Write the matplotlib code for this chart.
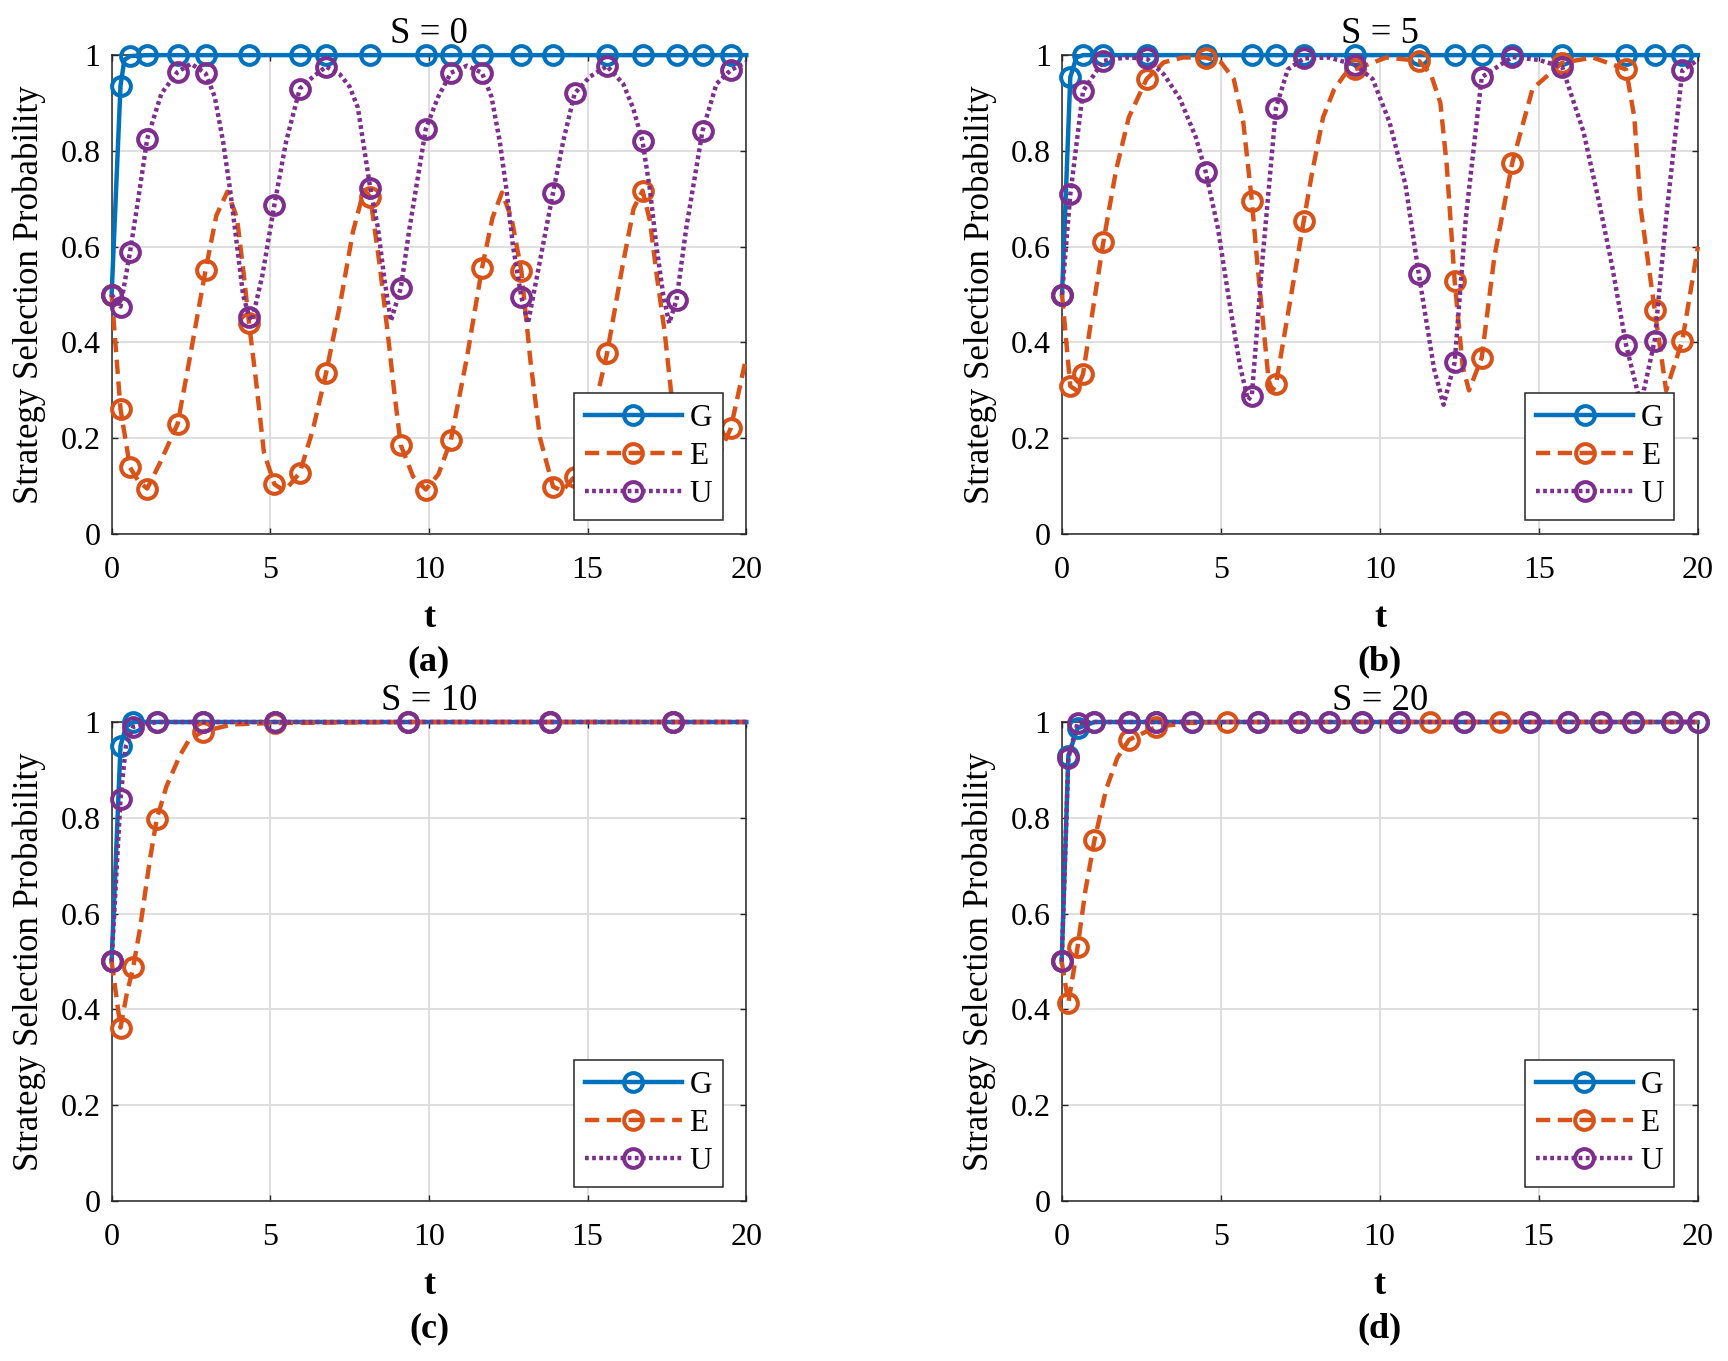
import numpy as np
import matplotlib.pyplot as plt
from matplotlib.ticker import FuncFormatter

plt.rcParams['font.family'] = ['Liberation Serif', 'DejaVu Serif']

# Barvy (MATLAB default)
col_G = '#0072BD'
col_E = '#D95319'
col_U = '#7E2F8E'

# ---------------- (a) S = 0 ----------------
ta = [0, 0.28, 0.58, 1.12, 2.08, 2.96, 4.33, 5.13, 5.93, 6.76, 8.15, 9.11, 9.90,
      10.69, 11.67, 12.91, 13.91, 14.59, 15.61, 16.73, 17.80, 18.62, 19.51]
Ga_t = [0, 0.28, 0.58, 1.12, 2.08, 2.96, 4.33, 5.93, 6.76, 8.15, 9.90, 10.69,
        11.67, 12.91, 13.91, 15.61, 16.73, 17.80, 18.62, 19.51]
Ga_y = [0.5, 0.936, 0.998, 1, 1, 1, 1, 1, 1, 1, 1, 1, 1, 1, 1, 1, 1, 1, 1, 1]
Ga_xt = [0.40, 20.0]
Ga_xy = [0.990, 1.0]
Ea_y = [0.5, 0.261, 0.139, 0.095, 0.230, 0.551, 0.440, 0.104, 0.128, 0.337, 0.704,
        0.186, 0.093, 0.196, 0.555, 0.550, 0.099, 0.120, 0.377, 0.717, 0.190, 0.090, 0.221]
Ea_xt = [0.85, 1.52, 2.47, 3.30, 3.65, 3.95, 4.15, 4.55, 4.80, 5.45, 6.35, 7.20, 7.60,
         7.95, 8.45, 8.70, 8.90, 9.50, 10.30, 11.20, 12.00, 12.30, 12.60, 13.20, 13.50,
         14.20, 15.10, 16.10, 16.45, 16.96, 17.17, 17.43, 18.20, 20.0]
Ea_xy = [0.110, 0.148, 0.370, 0.665, 0.715, 0.660, 0.550, 0.320, 0.170, 0.090, 0.220,
         0.480, 0.630, 0.718, 0.560, 0.420, 0.300, 0.120, 0.125, 0.370, 0.660, 0.713,
         0.660, 0.360, 0.200, 0.090, 0.230, 0.560, 0.680, 0.655, 0.544, 0.420, 0.120, 0.370]
Ua_y = [0.5, 0.475, 0.589, 0.825, 0.965, 0.962, 0.454, 0.688, 0.930, 0.976, 0.722,
        0.513, 0.846, 0.963, 0.963, 0.495, 0.713, 0.920, 0.977, 0.820, 0.489, 0.842, 0.969]
Ua_xt = [0.84, 1.57, 2.50, 3.25, 3.51, 3.72, 3.93, 4.14, 4.42, 4.75, 5.50, 6.35, 7.19,
         7.50, 7.76, 7.97, 8.39, 8.60, 8.80, 9.39, 10.29, 11.20, 11.97, 12.23, 12.44,
         12.65, 13.12, 14.23, 15.07, 16.12, 16.43, 16.96, 17.17, 17.38, 17.57, 18.11,
         19.06, 20.0]
Ua_xy = [0.700, 0.920, 0.982, 0.913, 0.820, 0.725, 0.614, 0.500, 0.445, 0.540, 0.820,
         0.955, 0.960, 0.934, 0.890, 0.800, 0.640, 0.530, 0.445, 0.640, 0.913, 0.978,
         0.913, 0.820, 0.720, 0.600, 0.440, 0.820, 0.955, 0.940, 0.890, 0.720, 0.600,
         0.500, 0.440, 0.640, 0.940, 0.985]

# ---------------- (b) S = 5 ----------------
tb = [0, 0.26, 0.66, 1.30, 2.66, 4.52, 5.97, 6.73, 7.60, 9.20, 11.22, 12.35, 13.20,
      14.16, 15.73, 17.74, 18.64, 19.51]
Gb_y = [0.5, 0.954, 1, 1, 1, 1, 1, 1, 1, 1, 1, 1, 1, 1, 1, 1, 1, 1]
Gb_xt = [0.45, 20.0]
Gb_xy = [0.995, 1.0]
Eb_y = [0.5, 0.309, 0.334, 0.610, 0.950, 0.995, 0.696, 0.313, 0.653, 0.970, 0.988,
        0.528, 0.368, 0.775, 0.984, 0.970, 0.468, 0.404]
Eb_xt = [0.45, 0.95, 1.70, 2.10, 3.20, 3.80, 5.00, 5.40, 5.70, 6.15, 6.50, 6.62, 7.86,
         8.21, 8.56, 8.90, 10.20, 11.60, 11.90, 12.10, 12.60, 12.80, 13.60, 14.80,
         16.70, 18.00, 18.20, 19.00, 20.0]
Eb_xy = [0.300, 0.460, 0.760, 0.870, 0.985, 0.995, 0.985, 0.950, 0.860, 0.560, 0.320,
         0.300, 0.753, 0.870, 0.929, 0.960, 0.995, 0.960, 0.900, 0.770, 0.350, 0.300,
         0.580, 0.930, 0.995, 0.870, 0.680, 0.300, 0.600]
Ub_y = [0.5, 0.709, 0.925, 0.988, 0.993, 0.756, 0.289, 0.890, 0.993, 0.980, 0.543,
        0.359, 0.954, 0.996, 0.975, 0.395, 0.404, 0.968]
Ub_xt = [2.00, 3.20, 3.70, 4.20, 4.90, 5.25, 5.60, 5.85, 6.30, 7.10, 8.40, 9.77, 10.30,
         10.80, 11.70, 12.00, 12.70, 15.00, 16.40, 16.90, 17.30, 18.20, 19.00, 20.0]
Ub_xy = [0.995, 0.960, 0.910, 0.830, 0.640, 0.490, 0.350, 0.280, 0.570, 0.970, 0.995,
         0.950, 0.860, 0.730, 0.345, 0.270, 0.660, 0.990, 0.840, 0.690, 0.560, 0.270,
         0.660, 0.990]

# ---------------- (c) S = 10 ----------------
tc = [0, 0.28, 0.68, 1.42, 2.88, 5.14, 9.33, 13.80, 17.68]
Gc_y = [0.5, 0.950, 1.0, 1, 1, 1, 1, 1, 1]
Gc_xt = [0.45, 20.0]
Gc_xy = [0.990, 1.0]
Ec_y = [0.5, 0.362, 0.488, 0.797, 0.980, 0.998, 1.0, 1.0, 1.0]
Ec_xt = [0.47, 0.89, 1.20, 1.73, 2.15, 2.46, 3.80, 20.0]
Ec_xy = [0.430, 0.567, 0.710, 0.866, 0.930, 0.965, 0.995, 1.0]
Uc_y = [0.5, 0.840, 0.990, 1.0, 1, 1, 1, 1, 1]
Uc_xt = [0.45, 20.0]
Uc_xy = [0.950, 1.0]

# ---------------- (d) S = 20 ----------------
td = [0, 0.21, 0.50, 1.03, 2.12, 2.98, 4.10, 6.18, 7.45, 8.41, 9.43, 10.60, 12.66,
      14.72, 15.93, 16.96, 17.98, 19.18, 20.0]
Gd_y = [0.5, 0.930, 0.987, 1, 1, 1, 1, 1, 1, 1, 1, 1, 1, 1, 1, 1, 1, 1, 1]
Ud_y = [0.5, 0.925, 0.998, 1, 1, 1, 1, 1, 1, 1, 1, 1, 1, 1, 1, 1, 1, 1, 1]
td_e = [0, 0.21, 0.50, 1.03, 2.12, 2.98, 5.21, 11.58, 13.78]
Ed_y = [0.5, 0.414, 0.530, 0.753, 0.963, 0.990, 1.0, 1.0, 1.0]
Ed_xt = [0.75, 1.40, 1.75, 4.00, 20.0]
Ed_xy = [0.650, 0.860, 0.925, 0.998, 1.0]

titles = ['S = 0', 'S = 5', 'S = 10', 'S = 20']
tags = ['(a)', '(b)', '(c)', '(d)']
names = ['G', 'E', 'U']


def series(t_mk, y_mk, t_ex=(), y_ex=()):
    # spojí body se značkami a mezilehlé odečtené body
    t = np.concatenate([np.asarray(t_mk, float), np.asarray(t_ex, float)])
    y = np.concatenate([np.asarray(y_mk, float), np.asarray(y_ex, float)])
    mk = np.r_[np.ones(len(t_mk), bool), np.zeros(len(t_ex), bool)]
    order = np.argsort(t, kind='stable')
    return t[order], y[order], list(mk[order])


panels = [
    [series(Ga_t, Ga_y, Ga_xt, Ga_xy), series(ta, Ea_y, Ea_xt, Ea_xy), series(ta, Ua_y, Ua_xt, Ua_xy)],
    [series(tb, Gb_y, Gb_xt, Gb_xy), series(tb, Eb_y, Eb_xt, Eb_xy), series(tb, Ub_y, Ub_xt, Ub_xy)],
    [series(tc, Gc_y, Gc_xt, Gc_xy), series(tc, Ec_y, Ec_xt, Ec_xy), series(tc, Uc_y, Uc_xt, Uc_xy)],
    [series(td, Gd_y), series(td_e, Ed_y, Ed_xt, Ed_xy), series(td, Ud_y)],
]

styles = [
    dict(color=col_G, linestyle='-'),
    dict(color=col_E, linestyle=(0, (3.2, 1.7))),
    dict(color=col_U, linestyle=(0, (0.85, 0.75))),
]

fig = plt.figure(figsize=(17.28, 13.61), dpi=100)
positions = [
    [0.0646, 0.6076, 0.3673, 0.3519],
    [0.6146, 0.6076, 0.3680, 0.3519],
    [0.0646, 0.1176, 0.3673, 0.3519],
    [0.6144, 0.1176, 0.3680, 0.3519],
]

for k in range(4):
    ax = fig.add_axes(positions[k])
    for j in range(3):
        t, y, mk = panels[k][j]
        ax.plot(t, y, lw=3.2, marker='o', markevery=mk, markersize=13.5,
                markeredgewidth=2.9, markerfacecolor='none', clip_on=False,
                label=names[j], zorder=3 + j, **styles[j])
    ax.set_xlim(0, 20)
    ax.set_ylim(0, 1)
    ax.set_xticks([0, 5, 10, 15, 20])
    ax.set_yticks([0, 0.2, 0.4, 0.6, 0.8, 1.0])
    ax.yaxis.set_major_formatter(FuncFormatter(lambda v, p: '%g' % v))
    ax.tick_params(direction='in', top=True, right=True, length=4.5, width=1,
                   labelsize=23, color='#262626')
    ax.tick_params(axis='x', pad=16)
    ax.tick_params(axis='y', pad=8)
    ax.grid(True, color='#dcdcdc', lw=1.3)
    ax.set_axisbelow(True)
    for s in ax.spines.values():
        s.set_color('#262626')
        s.set_linewidth(1.1)
    ax.set_title(titles[k], fontsize=26.5, pad=9)
    ax.set_ylabel('Strategy Selection Probability', fontsize=25)
    ax.yaxis.set_label_coords(-0.103, 0.5)
    ax.set_xlabel('t', fontsize=26, fontweight='bold')
    ax.xaxis.set_label_coords(0.5, -0.142)
    ax.text(0.5, -0.266, tags[k], transform=ax.transAxes, ha='center', va='center',
            fontsize=26, fontweight='bold')
    leg = ax.legend(loc='lower right', bbox_to_anchor=(0.963, 0.03), borderaxespad=0,
                    fontsize=22.5, numpoints=1, handlelength=3.1, handletextpad=0.25,
                    labelspacing=0.28, borderpad=0.35, fancybox=False, framealpha=1,
                    edgecolor='#262626')
    leg.get_frame().set_linewidth(1.1)
    leg.set_zorder(10)

fig.savefig('out.png', dpi=100)
